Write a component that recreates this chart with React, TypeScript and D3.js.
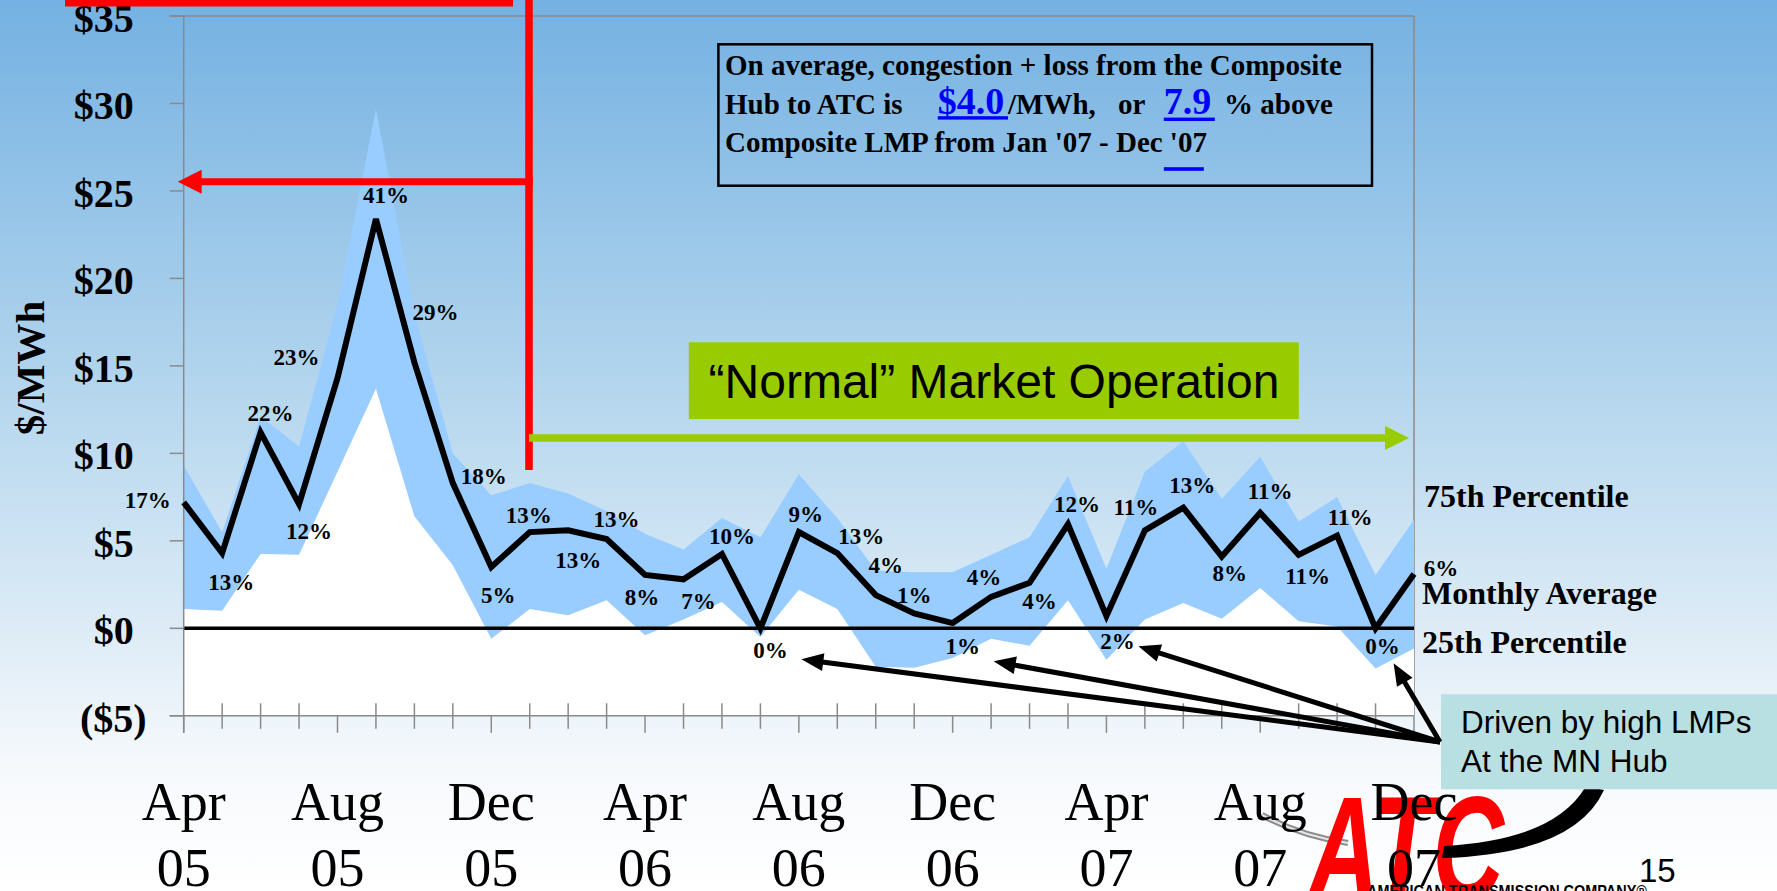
import * as d3 from "d3";

// monthly congestion + loss, Composite Hub -> ATC ($/MWh)
const months = [
  "Apr 05", "May 05", "Jun 05", "Jul 05", "Aug 05", "Sep 05", "Oct 05", "Nov 05", "Dec 05",
  "Jan 06", "Feb 06", "Mar 06", "Apr 06", "May 06", "Jun 06", "Jul 06", "Aug 06", "Sep 06",
  "Oct 06", "Nov 06", "Dec 06", "Jan 07", "Feb 07", "Mar 07", "Apr 07", "May 07", "Jun 07",
  "Jul 07", "Aug 07", "Sep 07", "Oct 07", "Nov 07", "Dec 07",
];

const monthlyAvg = [
  7.2, 4.3, 11.2, 7.1, 14.3, 23.4, 15.2, 8.3, 3.5, 5.5, 5.6, 5.1, 3.05, 2.8, 4.25, 0.0, 5.5,
  4.3, 1.9, 0.85, 0.3, 1.8, 2.6, 5.95, 0.7, 5.6, 6.9, 4.1, 6.6, 4.2, 5.3, 0.0, 3.1,
];

const pct75 = [
  9.3, 5.5, 12.1, 10.4, 18.5, 29.7, 18.0, 10.0, 7.6, 8.3, 7.7, 6.7, 5.4, 4.5, 6.3, 5.2, 8.8,
  6.3, 3.3, 3.2, 3.2, 4.2, 5.2, 8.7, 3.4, 8.95, 10.7, 7.4, 9.8, 6.1, 7.5, 3.05, 6.2,
];

const pct25 = [
  1.1, 1.0, 4.25, 4.2, 8.95, 13.7, 6.4, 3.6, -0.6, 1.1, 0.75, 1.6, -0.4, 0.5, 1.5, -0.5, 2.2,
  1.1, -2.2, -2.25, -1.7, -0.6, -1.0, 1.6, -1.8, 0.5, 1.45, 0.55, 2.3, 0.4, 0.1, -2.3, -1.15,
];

// % above Composite LMP, written next to each monthly point
const pctLabels = [
  "17%", "13%", "22%", "12%", "23%", "41%", "29%", "18%", "5%", "13%", "13%", "13%", "8%",
  "7%", "10%", "0%", "9%", "13%", "4%", "1%", "1%", "4%", "4%", "12%", "2%", "11%", "13%",
  "8%", "11%", "11%", "11%", "0%", "6%",
];

const yTicks = [-5, 0, 5, 10, 15, 20, 25, 30, 35];

// months singled out by the "Driven by high LMPs" callout
const hubMonths = [15, 20, 24, 31];

// label placement relative to its point (px)
const labelOffsets = [
  [-36, -2], [9, 29], [10, -19], [10, 27], [-41, -21], [10, -23], [21, -50], [31, -7],
  [7, 28], [-1, -17], [10, 30], [10, -20], [-3, 23], [15, 22], [10, -17], [10, 22],
  [7, -18], [24, -17], [10, -30], [0, -18], [10, 23], [-7, -19], [10, 19], [9, -20],
  [11, 25], [-9, -23], [9, -22], [8, 17], [10, -21], [9, 22], [13, -18], [7, 18], [27, -6],
];
const calloutTips = [[41, 31], [41, 33], [32, 18], [18, 35]];

const W = 1777;
const H = 891;
const SERIF = "'Liberation Serif', 'Times New Roman', serif";
const SANS = "'Liberation Sans', Arial, sans-serif";
const GRID = "#8a8a8a";

function arrowHead(x1: number, y1: number, x2: number, y2: number, len: number, half: number) {
  const a = Math.atan2(y2 - y1, x2 - x1);
  const bx = x2 - len * Math.cos(a);
  const by = y2 - len * Math.sin(a);
  const nx = -Math.sin(a) * half;
  const ny = Math.cos(a) * half;
  return {
    pts: `${x2},${y2} ${bx + nx},${by + ny} ${bx - nx},${by - ny}`,
    bx: x2 - len * 0.6 * Math.cos(a),
    by: y2 - len * 0.6 * Math.sin(a),
  };
}

const App = () => {
  const x = d3.scaleLinear().domain([0, months.length - 1]).range([183.7, 1414]);
  const y = d3.scaleLinear().domain([-5, 35]).range([715.8, 16]);
  const left = x(0);
  const right = x(months.length - 1);
  const bottom = y(-5);

  const band = (vals: number[]) =>
    d3
      .area<number>()
      .x((_, i) => x(i))
      .y0(bottom)
      .y1((d) => y(d))(vals) ?? "";

  const avgPath =
    d3
      .line<number>()
      .x((_, i) => x(i))
      .y((d) => y(d))(monthlyAvg) ?? "";

  const fmt = (v: number) => (v < 0 ? `($${-v})` : `$${v}`);

  // red arrow back to the $25 level, green "normal operation" arrow
  const redY = 181.7;
  const redX = 529;
  const redHead = arrowHead(redX, redY, left - 6, redY, 24, 12);
  const greenY = 438;
  const greenHead = arrowHead(redX, greenY, right - 5, greenY, 24, 12);

  const calloutFrom = [1440, 742];

  return (
    <svg
      width={W}
      height={H}
      style={{ position: "absolute", left: 0, top: 0, display: "block" }}
      xmlns="http://www.w3.org/2000/svg"
    >
      <defs>
        <linearGradient id="bg" x1="0" y1="0" x2="0" y2="1">
          <stop offset="0" stopColor="#74b1e2" />
          <stop offset="0.45" stopColor="#b6d7ee" />
          <stop offset="0.7" stopColor="#dcebf6" />
          <stop offset="0.86" stopColor="#f6f9fc" />
          <stop offset="1" stopColor="#ffffff" />
        </linearGradient>
      </defs>
      <rect x={0} y={0} width={W} height={H} fill="url(#bg)" />

      {/* plot frame (top / right) */}
      <line x1={left - 14} x2={right} y1={y(35)} y2={y(35)} stroke={GRID} strokeWidth={1.5} />
      <line x1={right} x2={right} y1={y(35)} y2={bottom} stroke={GRID} strokeWidth={1.5} />

      {/* interquartile band */}
      <path d={band(pct75)} fill="#99ccff" />
      <path d={band(pct25)} fill="#ffffff" />

      {/* zero line */}
      <line x1={left} x2={right} y1={y(0)} y2={y(0)} stroke="#000" strokeWidth={3.5} />

      {/* axes */}
      <line x1={left} x2={left} y1={y(35)} y2={bottom + 17} stroke={GRID} strokeWidth={1.5} />
      <line x1={left - 14} x2={right} y1={bottom} y2={bottom} stroke={GRID} strokeWidth={1.5} />
      {yTicks.map((t) => (
        <line key={t} x1={left - 14} x2={left} y1={y(t)} y2={y(t)} stroke={GRID} strokeWidth={1.5} />
      ))}
      {months.map((m, i) =>
        i % 4 === 0 ? (
          <line key={m} x1={x(i)} x2={x(i)} y1={bottom} y2={bottom + 17} stroke={GRID} strokeWidth={1.5} />
        ) : (
          <line key={m} x1={x(i)} x2={x(i)} y1={bottom - 12.5} y2={bottom + 13} stroke={GRID} strokeWidth={1.5} />
        )
      )}

      {/* monthly average */}
      <path d={avgPath} fill="none" stroke="#000" strokeWidth={6} strokeLinejoin="miter" />

      {pctLabels.map((p, i) => (
        <text
          key={i}
          x={x(i) + labelOffsets[i][0]}
          y={y(monthlyAvg[i]) + labelOffsets[i][1]}
          textAnchor="middle"
          dominantBaseline="central"
          fontFamily={SERIF}
          fontWeight="bold"
          fontSize={23}
        >
          {p}
        </text>
      ))}

      {/* series names at the right */}
      <g fontFamily={SERIF} fontWeight="bold" fontSize={32}>
        <text x={right + 10} y={507}>75th Percentile</text>
        <text x={right + 8} y={604}>Monthly Average</text>
        <text x={right + 8} y={653}>25th Percentile</text>
      </g>

      {/* y axis labels */}
      {yTicks.map((t) => (
        <text
          key={t}
          x={t < 0 ? left - 37 : left - 50}
          y={y(t) + 16}
          textAnchor="end"
          fontFamily={SERIF}
          fontWeight="bold"
          fontSize={40}
        >
          {fmt(t)}
        </text>
      ))}
      <text
        transform="translate(44,368) rotate(-90)"
        textAnchor="middle"
        fontFamily={SERIF}
        fontWeight="bold"
        fontSize={41}
      >
        $/MWh
      </text>

      {/* ATC logo */}
      <g>
        <path d="M1262,815 Q1300,836 1348,843" fill="none" stroke="#8c8c8c" strokeWidth={6} />
        <path d="M1262,815 Q1300,836 1348,843" fill="none" stroke="#e8e8e8" strokeWidth={2} />
        <text
          x={1308}
          y={900}
          fontFamily={SANS}
          fontWeight="bold"
          fontStyle="italic"
          fontSize={148}
          fill="#ff0000"
          textLength={196}
          lengthAdjust="spacingAndGlyphs"
        >
          ATC
        </text>
        <path d="M1604,790 Q1575,854 1442,858 L1444,846 Q1555,840 1586,786 Z" fill="#000" />
        <text
          x={1367}
          y={897}
          fontFamily={SANS}
          fontWeight="bold"
          fontSize={17}
          textLength={280}
          lengthAdjust="spacingAndGlyphs"
        >
          AMERICAN TRANSMISSION COMPANY®
        </text>
      </g>

      {/* x axis labels */}
      {months.map((m, i) =>
        i % 4 === 0 ? (
          <g key={m} fontFamily={SERIF} fontSize={54} textAnchor="middle">
            <text x={x(i)} y={820}>{m.split(" ")[0]}</text>
            <text x={x(i)} y={886}>{m.split(" ")[1]}</text>
          </g>
        ) : null
      )}

      {/* summary box */}
      <rect x={718.4} y={44.3} width={653.6} height={141.4} fill="none" stroke="#000" strokeWidth={2.5} />
      <g fontFamily={SERIF} fontWeight="bold" fontSize={29}>
        <text x={725} y={75}>On average, congestion + loss from the Composite</text>
        <text x={725} y={114}>Hub to ATC is</text>
        <text x={1008} y={114}>/MWh,</text>
        <text x={1118} y={114}>or</text>
        <text x={1224} y={114}>% above</text>
        <text x={725} y={152}>Composite LMP from Jan '07 - Dec '07</text>
      </g>
      <g fontFamily={SERIF} fontWeight="bold" fontSize={38} fill="#0000ff">
        <text x={937.8} y={114}>$4.0</text>
        <text x={1163.8} y={114}>7.9</text>
      </g>
      <rect x={937.8} y={116.2} width={70.2} height={3.4} fill="#0000ff" />
      <rect x={1163.8} y={117.6} width={51} height={3.4} fill="#0000ff" />
      <rect x={1163.8} y={167.2} width={40} height={3.6} fill="#0000ff" />

      {/* red markers */}
      <line x1={65} x2={513} y1={3} y2={3} stroke="#ff0000" strokeWidth={7} />
      <line x1={redX} x2={redX} y1={0} y2={470} stroke="#ff0000" strokeWidth={7.6} />
      <line x1={redX + 3.8} x2={redHead.bx} y1={redY} y2={redY} stroke="#ff0000" strokeWidth={7} />
      <polygon points={redHead.pts} fill="#ff0000" />

      {/* normal market operation */}
      <rect x={688.8} y={342.3} width={610} height={76.7} fill="#99cc00" />
      <text x={994} y={398.3} textAnchor="middle" fontFamily={SANS} fontSize={48}>
        “Normal” Market Operation
      </text>
      <line x1={redX} x2={greenHead.bx} y1={greenY} y2={greenY} stroke="#99cc00" strokeWidth={7.3} />
      <polygon points={greenHead.pts} fill="#99cc00" />

      {/* MN Hub callout */}
      <rect x={1441} y={694.3} width={W - 1441} height={95} fill="#b8dfe2" />
      <g fontFamily={SANS} fontSize={31.5}>
        <text x={1461} y={733.3}>Driven by high LMPs</text>
        <text x={1461} y={771.7}>At the MN Hub</text>
      </g>
      {hubMonths.map((i, k) => {
        const tx = x(i) + calloutTips[k][0];
        const ty = y(0) + calloutTips[k][1];
        const head = arrowHead(calloutFrom[0], calloutFrom[1], tx, ty, 22, 9);
        return (
          <g key={i}>
            <line
              x1={calloutFrom[0]}
              y1={calloutFrom[1]}
              x2={head.bx}
              y2={head.by}
              stroke="#000"
              strokeWidth={5}
            />
            <polygon points={head.pts} fill="#000" />
          </g>
        );
      })}

      <text x={1639} y={882} fontFamily={SANS} fontSize={33}>
        15
      </text>
    </svg>
  );
};

export default App;
